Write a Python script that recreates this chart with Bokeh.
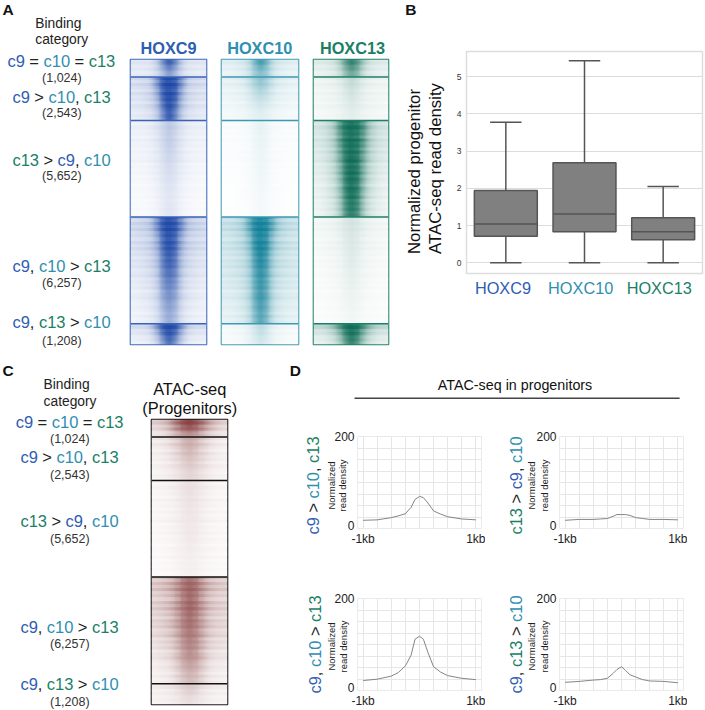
import numpy as np
from bokeh.plotting import figure
from bokeh.layouts import column
from bokeh.models import FixedTicker, Range1d
from bokeh.core.properties import value
from bokeh.embed import file_html
from bokeh.resources import INLINE

FONT = "Liberation Sans"
BLUE, TEAL, GREEN, INK = "#2F5DB3", "#2F8FB0", "#1B7F66", "#222222"
PAD = 40  # left border kept on every figure

# ---- category sizes (peak counts), from the labels
counts = [1024, 2543, 5652, 6257, 1208]
count_labels = ["(1,024)", "(2,543)", "(5,652)", "(6,257)", "(1,208)"]

# ---- heat maps: rows of intensity 0-100 across -1kb .. +1kb, one table per category
hoxc9 = [
 [[15,15,16,18,30,70,95,70,30,18,16,15,15],[14,14,15,18,28,50,72,50,28,18,15,14,14],[12,12,14,16,22,38,55,38,22,16,14,12,12]],
 [[22,24,26,35,70,100,100,100,70,35,26,24,22],[20,22,25,32,60,100,100,100,60,32,25,22,20],[17,18,22,28,45,95,100,95,45,28,22,18,17],[15,16,20,25,38,80,100,80,38,25,20,16,15],[12,14,16,20,32,70,95,70,32,20,16,14,12]],
 [[10,10,11,13,18,25,32,25,18,13,11,10,10],[8,8,9,11,15,22,28,22,15,11,9,8,8],[7,7,8,10,13,18,22,18,13,10,8,7,7],[5,5,6,8,10,15,18,15,10,8,6,5,5],[4,4,5,6,8,12,14,12,8,6,5,4,4],[3,3,4,5,7,12,15,12,7,5,4,3,3]],
 [[25,28,32,42,75,100,100,100,75,42,32,28,25],[22,25,28,35,55,95,100,95,55,35,28,25,22],[18,20,24,30,42,85,95,85,42,30,24,20,18],[15,16,20,25,35,75,85,75,35,25,20,16,15],[12,14,17,20,30,62,72,62,30,20,17,14,12],[10,12,14,18,25,50,60,50,25,18,14,12,10],[8,9,11,14,20,38,48,38,20,14,11,9,8]],
 [[22,22,25,35,70,100,100,100,70,35,25,22,22],[14,15,18,25,45,88,100,88,45,25,18,15,14],[8,9,11,15,28,60,85,60,28,15,11,9,8]],
]
hoxc10 = [
 [[15,15,18,20,30,65,85,65,30,20,18,15,15],[12,12,15,18,28,50,62,50,28,18,15,12,12],[10,10,12,15,24,45,52,45,24,15,12,10,10]],
 [[12,13,15,18,28,42,52,42,28,18,15,13,12],[10,11,13,15,22,32,38,32,22,15,13,11,10],[8,9,10,12,16,22,25,22,16,12,10,9,8],[6,6,8,9,12,15,18,15,12,9,8,6,6],[5,5,6,7,9,11,13,11,9,7,6,5,5]],
 [[3,3,3,4,5,8,11,8,5,4,3,3,3],[2,2,3,3,4,7,9,7,4,3,3,2,2],[2,2,2,3,4,6,8,6,4,3,2,2,2],[1,1,2,2,3,5,7,5,3,2,2,1,1],[1,1,1,2,3,4,6,4,3,2,1,1,1],[1,1,1,2,2,4,5,4,2,2,1,1,1]],
 [[28,30,35,45,80,100,100,100,80,45,35,30,28],[25,27,32,40,60,100,100,100,60,40,32,27,25],[22,24,28,33,48,90,100,90,48,33,28,24,22],[20,22,25,30,42,80,92,80,42,30,25,22,20],[18,20,22,28,38,75,88,75,38,28,22,20,18],[15,16,18,24,35,72,85,72,35,24,18,16,15],[12,13,16,20,30,60,75,60,30,20,16,13,12]],
 [[5,6,7,9,13,22,30,22,13,9,7,6,5],[4,5,6,8,12,20,26,20,12,8,6,5,4],[3,3,4,6,10,15,20,15,10,6,4,3,3]],
]
hoxc13 = [
 [[15,16,18,22,40,75,90,75,40,22,18,16,15],[12,13,15,18,32,60,75,60,32,18,15,13,12],[10,10,13,16,25,50,60,50,25,16,13,10,10]],
 [[8,9,10,12,16,22,28,22,16,12,10,9,8],[7,8,9,10,13,18,22,18,13,10,9,8,7],[6,7,8,9,11,14,18,14,11,9,8,7,6],[5,6,7,8,10,12,14,12,10,8,7,6,5],[5,5,6,7,8,10,12,10,8,7,6,5,5]],
 [[20,24,30,45,85,100,100,100,85,45,30,24,20],[18,22,28,40,78,100,100,100,78,40,28,22,18],[15,18,24,35,65,100,100,100,65,35,24,18,15],[12,15,20,30,58,100,100,100,58,30,20,15,12],[10,13,18,26,50,95,100,95,50,26,18,13,10],[8,11,15,22,42,85,92,85,42,22,15,11,8]],
 [[6,7,8,10,13,17,20,17,13,10,8,7,6],[5,6,7,8,11,14,17,14,11,8,7,6,5],[4,5,6,7,9,12,15,12,9,7,6,5,4],[3,4,5,6,7,10,12,10,7,6,5,4,3],[3,3,4,5,6,8,10,8,6,5,4,3,3],[2,3,3,4,5,7,8,7,5,4,3,3,2],[2,2,3,3,4,5,6,5,4,3,3,2,2]],
 [[30,32,38,55,85,100,100,100,85,55,38,32,30],[18,20,25,35,60,95,100,95,60,35,25,20,18],[10,12,15,22,40,75,90,75,40,22,15,12,10]],
]
atac = [
 [[28,32,42,60,78,90,92,85,75,55,40,30,25],[22,28,38,55,70,80,82,78,65,48,35,25,20],[12,15,22,32,42,48,50,45,38,28,20,15,12]],
 [[12,14,18,25,30,40,42,38,30,22,16,12,10],[10,12,16,22,28,35,38,32,26,20,14,10,8],[8,10,13,18,22,28,30,26,22,16,12,10,8],[7,9,11,15,18,22,25,22,18,14,10,8,7],[6,8,10,12,15,18,20,18,15,12,9,7,6]],
 [[6,7,8,10,12,15,16,14,12,9,7,6,5],[5,6,7,8,10,12,14,12,10,8,7,6,5],[5,6,7,8,10,11,12,11,9,7,6,5,5],[4,5,6,7,8,10,11,10,8,7,6,5,4],[4,4,5,6,7,8,9,8,7,6,5,4,4],[3,4,4,5,6,7,8,7,6,5,4,4,3]],
 [[32,36,42,50,62,72,75,72,58,45,38,32,30],[30,34,40,48,62,72,78,72,58,44,35,30,28],[26,30,36,45,58,70,75,68,55,40,32,28,25],[22,26,32,40,52,65,68,62,50,36,28,24,22],[18,22,26,32,45,58,62,58,44,30,24,20,18],[12,15,18,24,36,48,52,48,36,24,16,14,12],[8,10,12,16,24,32,35,32,24,16,12,10,8]],
 [[10,12,14,16,20,25,28,24,18,14,12,10,10],[8,9,11,13,16,20,22,19,15,12,10,8,8],[6,7,8,10,12,14,15,13,11,9,7,6,6]],
]
# pale horizontal streaks seen in each category (percent of white laid over the rows)
streaks = [
 [20,5,28,8,30,12],
 [10,30,5,22,35,8,25,12,32,6,20,28,10,24],
 [12,30,8,26,18,35,6,24,14,32,10,28,20,5,34,16,26,8,30,12,22,36,10,18,28,6,32,14,24,9,30,16],
 [14,32,8,24,5,30,18,36,10,26,6,28,16,34,12,22,8,30,20,5,32,14,26,10,36,18,6,24,30,12,20,34,8,28,16],
 [18,6,30,10,26,8,22],
]

# ---- box plot
box_names = ["HOXC9", "HOXC10", "HOXC13"]
box_low = [0, 0, 0]
box_q1 = [0.71, 0.83, 0.62]
box_med = [1.04, 1.31, 0.83]
box_q3 = [1.94, 2.69, 1.21]
box_high = [3.78, 5.43, 2.05]

# ---- density profiles
dist_kb = [-1, -.75, -.5, -.375, -.25, -.15, -.08, 0, .07, .15, .25, .375, .5, .75, 1]
dens_c9 = [11, 12, 17, 21, 26, 40, 58, 65, 62, 50, 32, 25, 19, 14, 12]
dens_c13 = [11, 13, 13, 14, 15, 20, 24, 24, 24, 22, 17, 15, 13, 13, 12]
dens_c9c10 = [15, 18, 25, 33, 48, 72, 108, 115, 108, 78, 46, 34, 26, 20, 17]
dens_c9c13 = [11, 13, 16, 17, 20, 31, 40, 46, 38, 28, 23, 17, 14, 13, 10]

# ---- Liberation Sans advance widths, to lay out several-coloured labels
W = {"c": .5, "9": .556, "1": .556, "0": .556, "3": .556, " ": .278, ",": .278, ">": .584, "=": .584}
def tw(s, size):
    return sum(W.get(ch, .556) for ch in s) * size

L_EQ = [("c9", BLUE), (" = ", INK), ("c10", TEAL), (" = ", INK), ("c13", GREEN)]
L_C9 = [("c9", BLUE), (" > ", INK), ("c10", TEAL), (", ", INK), ("c13", GREEN)]
L_C13 = [("c13", GREEN), (" > ", INK), ("c9", BLUE), (", ", INK), ("c10", TEAL)]
L_C9C10 = [("c9", BLUE), (", ", INK), ("c10", TEAL), (" > ", INK), ("c13", GREEN)]
L_C9C13 = [("c9", BLUE), (", ", INK), ("c13", GREEN), (" > ", INK), ("c10", TEAL)]
cat_labels = [L_EQ, L_C9, L_C13, L_C9C10, L_C9C13]

# ---- page-wide drawing layer for the free texts
canvas = figure(width=705 + PAD, height=710, x_range=Range1d(0, 705), y_range=Range1d(710, 0),
                output_backend="svg", toolbar_location=None, min_border=0, min_border_left=PAD,
                x_axis_location=None, y_axis_location=None,
                background_fill_color=None, border_fill_color=None, outline_line_color=None)
canvas.grid.visible = False

def put(s, x, y, size, color=INK, align="left", angle=0.0, bold=False):
    canvas.text([x], [y], [s], text_font=value(FONT), text_font_size=f"{size}px", text_color=color,
                text_align=align, text_baseline="middle", angle=angle,
                text_font_style="bold" if bold else "normal")

def multi(segs, x, y, size, vertical=False):
    pos = 0.0
    for s, col in segs:
        lead = len(s) - len(s.lstrip())
        off = pos + tw(s[:lead], size)
        if vertical:
            put(s.strip(), x, y - off, size, col, angle=np.pi / 2)
        else:
            put(s.strip(), x + off, y, size, col)
        pos += tw(s, size)

for s, x, y in [("A", 2, 9), ("B", 407, 9), ("C", 2, 370), ("D", 291, 370)]:
    put(s, x, y, 15.5, "#111111", bold=True)

# Panel A labels
put("Binding", 35, 22.7, 13.8); put("category", 35, 39, 13.8)
for segs, n, x, y, yn in zip(cat_labels, count_labels, [7, 12, 12, 12, 12],
                             [60, 96, 159, 265, 321.7], [77, 112.7, 175.7, 282, 340]):
    multi(segs, x, y, 16.5)
    put(n, 61.7, yn, 12.5, "#333333", align="center")
for s, c, x in zip(box_names, [BLUE, TEAL, GREEN], [169, 260.7, 354]):
    put(s, x, 47, 16.3, c, align="center", bold=True)

# Panel B labels
put("Normalized progenitor", 416.7, 171, 16.8, "#111111", align="center", angle=np.pi / 2)
put("ATAC-seq read density", 437.7, 168, 16.8, "#111111", align="center", angle=np.pi / 2)
for s, c, x in zip(box_names, [BLUE, TEAL, GREEN], [505.3, 583.5, 662.5]):
    put(s, x, 287, 16.3, c, align="center")

# Panel C labels
put("Binding", 43.3, 384, 13.8); put("category", 43.3, 400.7, 13.8)
for segs, n, x, y, yn in zip(cat_labels, count_labels, [15.3, 20, 20, 20, 20],
                             [421, 456.7, 520.7, 626.3, 683.3], [438.7, 474.3, 538, 643.7, 701.3]):
    multi(segs, x, y, 16.5)
    put(n, 69.7, yn, 12.5, "#333333", align="center")
put("ATAC-seq", 190.3, 388.3, 16.4, "#111111", align="center")
put("(Progenitors)", 190.3, 407.7, 16.4, "#111111", align="center")

# Panel D labels
put("ATAC-seq in progenitors", 517.5, 384, 14.3, "#111111", align="center")
canvas.line([356, 683], [397.7, 397.7], line_color="#444444", line_width=1.6)
for segs, x, y in [(L_C9, 314, 534), (L_C13, 518.3, 534), (L_C9C10, 316, 693), (L_C9C13, 518, 693)]:
    multi(segs, x, y, 16.4, vertical=True)
for x0, x1, y in [(332.7, 344.3, 485), (534.3, 546.7, 485), (332.7, 345, 646), (534.3, 547.3, 646)]:
    put("Normalized", x0, y, 9.5, align="center", angle=np.pi / 2)
    put("read density", x1, y, 9.5, align="center", angle=np.pi / 2)


def place(fig, left, top):
    # the root sits PAD px left of the page, so a child's frame lands at `left` in page pixels
    fig.styles = {"position": "absolute", "left": f"{left}px", "top": f"{top}px"}
    return fig


def box_blur(a, size, axis):
    # photograph-like softness of the printed heat map
    if size < 2:
        return a
    pad = [(0, 0), (0, 0)]
    pad[axis] = (size, size)
    b = np.pad(a, pad, mode="edge")
    kernel = np.ones(size) / size
    b = np.apply_along_axis(lambda r: np.convolve(r, kernel, mode="same"), axis, b)
    return b[size:-size, :] if axis == 0 else b[:, size:-size]


def soften(a, ky, kx):
    out = np.repeat(np.repeat(a, ky, axis=0), kx, axis=1)
    for _ in range(2):
        out = box_blur(out, ky, 0)
        out = box_blur(out, kx, 1)
    return out


def rgba(r, g, b, a):
    px = np.zeros(a.shape, dtype=np.uint32)
    view = px.view(np.uint8).reshape(a.shape + (4,))
    view[..., 0], view[..., 1], view[..., 2], view[..., 3] = r, g, b, a
    return px


def heatmap(tables, color, sep_color, left, top, w, h, gain=1.0):
    total = sum(counts)
    p = figure(width=w + PAD + 2, height=h + 4, min_border_left=PAD, min_border_right=2, min_border_top=2,
               min_border_bottom=2, x_range=Range1d(-1, 1), y_range=Range1d(0, total),
               x_axis_location=None, y_axis_location=None,
               output_backend="svg", toolbar_location=None, background_fill_color="white",
               border_fill_color=None, outline_line_color=sep_color, outline_line_width=1.6)
    p.grid.visible = False
    rgb = [int(color[i:i + 2], 16) for i in (1, 3, 5)]
    start = total
    cuts = []
    side = np.array([[1, 1, 1, 1, .8, .45, .3, .45, .8, 1, 1, 1, 1]], dtype=float)
    for table, n, st in zip(tables, counts, streaks):
        start -= n
        px_high = max(1, round(n / total * h))
        t = np.array(table, dtype=float)
        v = soften(t, max(1, round(px_high / len(t))), 6)[::-1] / 100.0
        cells = [np.round(255 - (255 - c) * v).astype(np.uint8) for c in rgb]
        p.image_rgba(image=[rgba(*cells, np.full(v.shape, 255, dtype=np.uint8))], x=-1, y=start, dw=2, dh=n)
        # streak layer, 1 table row ~ 3 px
        a = np.array(st, dtype=float)[::-1][:, None] / 100.0 * gain
        a = np.repeat(np.repeat(a * side, 3, axis=0), 6, axis=1)
        a8 = np.clip(np.round(255 * a), 0, 255).astype(np.uint8)
        p.image_rgba(image=[rgba(255, 255, 255, a8)], x=-1, y=start, dw=2, dh=n)
        cuts.append(start)
    p.segment(x0=[-1] * 4, x1=[1] * 4, y0=cuts[:4], y1=cuts[:4], line_color=sep_color, line_width=1.5)
    return place(p, left, top - 2)


panels = [
    heatmap(hoxc9, "#1C47A6", "#3A63B8", 130, 59, 78, 285),
    heatmap(hoxc10, "#0F7F98", "#3E98B4", 221, 59, 79, 285),
    heatmap(hoxc13, "#0C6B55", "#1F7F68", 313, 59, 77, 285),
    heatmap(atac, "#7A2A2A", "#111111", 151, 419, 78, 285, gain=1.2),
]

# ---- box plot
b = figure(width=236 + PAD + 4, height=222 + 6, min_border_left=PAD, min_border_right=4, min_border_top=2,
           min_border_bottom=4, x_range=Range1d(-.5, 2.5), y_range=Range1d(-.29, 5.68),
           x_axis_location=None,
           output_backend="svg", toolbar_location=None, background_fill_color=None,
           border_fill_color=None, outline_line_color="#DDDDDD", outline_line_width=1.5)
b.xgrid.visible = False
b.ygrid.ticker = FixedTicker(ticks=[0, 1, 2, 3, 4, 5])
b.ygrid.grid_line_color = "#DCDCDC"
b.ygrid.grid_line_width = 1.2
b.yaxis.ticker = FixedTicker(ticks=[0, 1, 2, 3, 4, 5])
b.yaxis.axis_line_color = None
b.yaxis.major_tick_line_color = None
b.yaxis.minor_tick_line_color = None
b.yaxis.major_tick_out = 0
b.yaxis.major_label_text_font = FONT
b.yaxis.major_label_text_font_size = "8.5px"
b.yaxis.major_label_text_color = "#333333"
b.yaxis.major_label_standoff = 5
xs = list(range(len(box_names)))
stem = dict(line_color="#555555", line_width=1.5)
b.segment(xs, box_low, xs, box_q1, **stem)
b.segment(xs, box_q3, xs, box_high, **stem)
b.segment([x - .2 for x in xs], box_low, [x + .2 for x in xs], box_low, **stem)
b.segment([x - .2 for x in xs], box_high, [x + .2 for x in xs], box_high, **stem)
b.vbar(x=xs, width=.8, bottom=box_q1, top=box_q3, fill_color="#808080", line_color="#555555", line_width=1.5)
b.segment([x - .4 for x in xs], box_med, [x + .4 for x in xs], box_med, **stem)
panels.append(place(b, 466, 51 - 2))


def density(vals, left, top):
    p = figure(width=124 + PAD + 4, height=92 + 8 + 26, min_border_left=PAD, min_border_right=4, min_border_top=8,
               min_border_bottom=26, x_range=Range1d(-1.1, 1.1), y_range=Range1d(-7.5, 200),
               output_backend="svg", toolbar_location=None, background_fill_color=None,
               border_fill_color=None, outline_line_color="#EAEAEA")
    p.xaxis.ticker = FixedTicker(ticks=[-1, 1])
    p.xaxis.major_label_overrides = {-1: "-1kb", 1: "1kb"}
    p.yaxis.ticker = FixedTicker(ticks=[0, 200])
    for ax in (p.xaxis, p.yaxis):
        ax.axis_line_color = None
        ax.major_tick_line_color = None
        ax.minor_tick_line_color = None
        ax.major_tick_out = 0
        ax.major_label_text_font = FONT
        ax.major_label_text_font_size = "12px"
        ax.major_label_text_color = INK
        ax.major_label_standoff = 3
    p.xgrid.ticker = FixedTicker(ticks=[-1, -.75, -.5, -.25, 0, .25, .5, .75, 1])
    p.ygrid.ticker = FixedTicker(ticks=[-7.5, 18.4, 44, 70, 96, 122, 148, 174, 200])
    p.grid.grid_line_color = "#E6E6E6"
    p.line(dist_kb, vals, line_color="#777777", line_width=0.9)
    return place(p, left, top - 8)


panels += [
    density(dens_c9, 357, 436),
    density(dens_c13, 559, 436),
    density(dens_c9c10, 357, 598),
    density(dens_c9c13, 559, 598),
]

root = column(place(canvas, 0, 0), *panels, width=705 + PAD, height=710)
root.styles = {"position": "absolute", "left": f"{-PAD}px", "top": "0px"}
open("out.html", "w").write(file_html(root, INLINE))
